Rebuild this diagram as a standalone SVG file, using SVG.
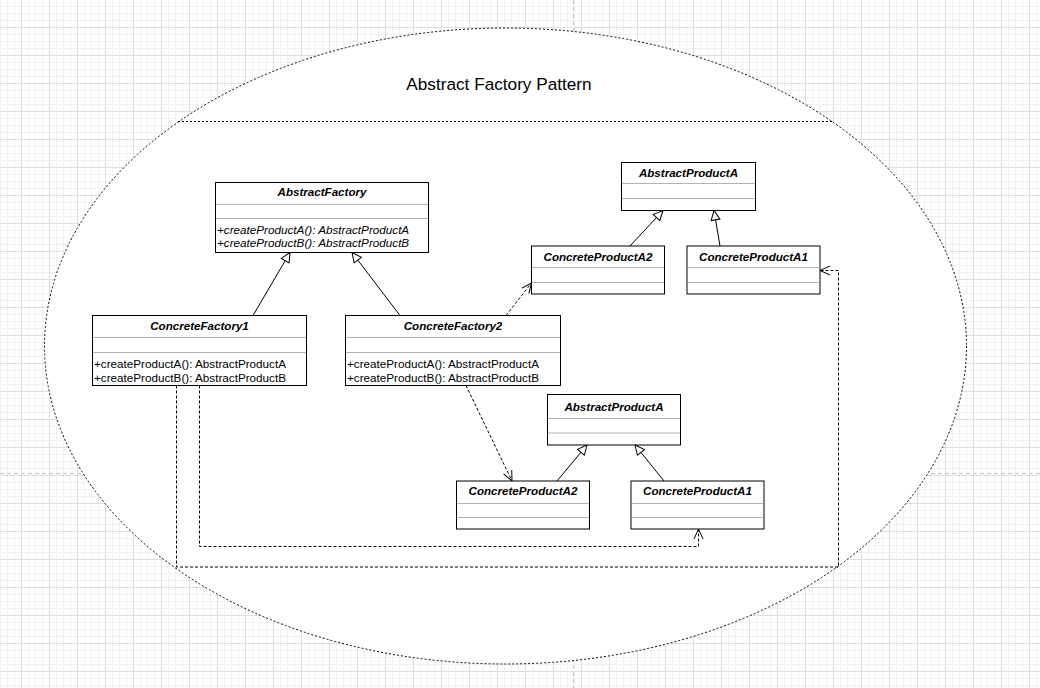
<svg xmlns="http://www.w3.org/2000/svg" width="1040" height="688" viewBox="0 0 1040 688">
<style>
  .box { fill: #ffffff; stroke: #000000; stroke-width: 1; }
  .sep { stroke: #b3b3b3; stroke-width: 1; }
  .t { font-family: "Liberation Sans", Arial, Helvetica, sans-serif; font-size: 11.7px; fill: #000000; }
  .title { font-weight: bold; font-style: italic; text-anchor: middle; font-size: 11.6px; }
  .it { font-style: italic; }
  .gen { fill: none; stroke: #000000; stroke-width: 1; marker-end: url(#tri); }
  .dep { fill: none; stroke: #000000; stroke-width: 1; stroke-dasharray: 3 2; marker-end: url(#open); }
  .pb { stroke: #c4c4c4; stroke-width: 1; stroke-dasharray: 4 3; }
</style>
<defs>
  <pattern id="grid" patternUnits="userSpaceOnUse" x="21" y="27" width="28" height="28">
    <path d="M7.5,0 V28 M14.5,0 V28 M21.5,0 V28 M0,7.5 H28 M0,14.5 H28 M0,21.5 H28" stroke="#f1f1f1" stroke-width="1" fill="none"/>
    <path d="M0.5,0 V28 M0,0.5 H28" stroke="#dedede" stroke-width="1" fill="none"/>
  </pattern>
  <marker id="tri" markerUnits="userSpaceOnUse" viewBox="0 0 10 10" markerWidth="10" markerHeight="10" refX="10" refY="5" orient="auto" overflow="visible">
    <path d="M0.5,0.5 L10,5 L0.5,9.5 Z" fill="#ffffff" stroke="#000000" stroke-width="1"/>
  </marker>
  <marker id="open" markerUnits="userSpaceOnUse" viewBox="0 0 10 10" markerWidth="10" markerHeight="10" refX="10" refY="5" orient="auto" overflow="visible">
    <path d="M0,0.5 L10,5 L0,9.5" fill="none" stroke="#000000" stroke-width="1"/>
  </marker>
</defs>

<!-- background grid -->
<rect x="0" y="0" width="1040" height="688" fill="#ffffff"/>
<rect x="0" y="0" width="1040" height="688" fill="url(#grid)"/>
<line class="pb" x1="573.5" y1="0" x2="573.5" y2="688"/>
<line class="pb" x1="0" y1="473.5" x2="1040" y2="473.5"/>

<!-- container ellipse -->
<g id="container">
  <ellipse cx="505.5" cy="346" rx="461" ry="318" fill="#ffffff" stroke="#000000" stroke-width="1" stroke-dasharray="2 2"/>
  <line x1="178" y1="121.5" x2="833" y2="121.5" stroke="#000000" stroke-width="1" stroke-dasharray="2 2"/>
  <text x="499" y="90" font-family="'Liberation Sans', Arial, Helvetica, sans-serif" font-size="17.2" text-anchor="middle" fill="#000000">Abstract Factory Pattern</text>
</g>

<!-- connectors -->
<g id="connectors">
  <path class="gen" d="M253,315.5 L290,252.5"/>
  <path class="gen" d="M400,315.5 L352,252.5"/>
  <path class="gen" d="M630,246 L663,210.5"/>
  <path class="gen" d="M720,246 L714,210.5"/>
  <path class="gen" d="M557,481 L587,445"/>
  <path class="gen" d="M664,481 L635,445"/>
  <path class="dep" d="M506,315.5 L531.5,283"/>
  <path class="dep" d="M466,385.5 L512,481"/>
  <path class="dep" d="M199.5,385.5 V546.5 H698.5 V529"/>
  <path class="dep" d="M176.5,385.5 V567 H838.5 V270.5 H820"/>
</g>

<g id="AbstractFactory">
  <rect class="box" x="215.5" y="182.5" width="213" height="70"/>
  <line class="sep" x1="216" y1="204.5" x2="428" y2="204.5"/>
  <line class="sep" x1="216" y1="218.5" x2="428" y2="218.5"/>
  <text class="t title" x="322" y="196">AbstractFactory</text>
  <text class="t it" x="217" y="233.8">+createProductA(): AbstractProductA</text>
  <text class="t it" x="217" y="247.2">+createProductB(): AbstractProductB</text>
</g>

<g id="ConcreteFactory1">
  <rect class="box" x="92.5" y="315.5" width="214" height="70"/>
  <line class="sep" x1="93" y1="337.5" x2="306" y2="337.5"/>
  <line class="sep" x1="93" y1="352.5" x2="306" y2="352.5"/>
  <text class="t title" x="199.5" y="330">ConcreteFactory1</text>
  <text class="t" x="94" y="368.3">+createProductA(): AbstractProductA</text>
  <text class="t" x="94" y="381.7">+createProductB(): AbstractProductB</text>
</g>

<g id="ConcreteFactory2">
  <rect class="box" x="345.5" y="315.5" width="215" height="70"/>
  <line class="sep" x1="346" y1="337.5" x2="560" y2="337.5"/>
  <line class="sep" x1="346" y1="352.5" x2="560" y2="352.5"/>
  <text class="t title" x="453" y="330">ConcreteFactory2</text>
  <text class="t" x="347" y="368.3">+createProductA(): AbstractProductA</text>
  <text class="t" x="347" y="381.7">+createProductB(): AbstractProductB</text>
</g>

<g id="AbstractProductA_1">
  <rect class="box" x="621.5" y="162.5" width="134" height="48"/>
  <line class="sep" x1="622" y1="183.5" x2="755" y2="183.5"/>
  <line class="sep" x1="622" y1="198.5" x2="755" y2="198.5"/>
  <text class="t title" x="688.5" y="176.5">AbstractProductA</text>
</g>

<g id="ConcreteProductA2_1">
  <rect class="box" x="531.5" y="246" width="133" height="48"/>
  <line class="sep" x1="532" y1="267.5" x2="664" y2="267.5"/>
  <line class="sep" x1="532" y1="282.5" x2="664" y2="282.5"/>
  <text class="t title" x="598" y="260.5">ConcreteProductA2</text>
</g>

<g id="ConcreteProductA1_1">
  <rect class="box" x="687" y="246" width="133" height="48"/>
  <line class="sep" x1="687.5" y1="267.5" x2="819.5" y2="267.5"/>
  <line class="sep" x1="687.5" y1="282.5" x2="819.5" y2="282.5"/>
  <text class="t title" x="753.5" y="260.5">ConcreteProductA1</text>
</g>

<g id="AbstractProductA_2">
  <rect class="box" x="547.5" y="394.5" width="133" height="50.5"/>
  <line class="sep" x1="548" y1="418.5" x2="680" y2="418.5"/>
  <line class="sep" x1="548" y1="433" x2="680" y2="433"/>
  <text class="t title" x="614" y="410.5">AbstractProductA</text>
</g>

<g id="ConcreteProductA2_2">
  <rect class="box" x="456.5" y="481" width="133" height="48"/>
  <line class="sep" x1="457" y1="503.5" x2="589" y2="503.5"/>
  <line class="sep" x1="457" y1="517.5" x2="589" y2="517.5"/>
  <text class="t title" x="523" y="495">ConcreteProductA2</text>
</g>

<g id="ConcreteProductA1_2">
  <rect class="box" x="631" y="481" width="133" height="48"/>
  <line class="sep" x1="631.5" y1="503.5" x2="763.5" y2="503.5"/>
  <line class="sep" x1="631.5" y1="517.5" x2="763.5" y2="517.5"/>
  <text class="t title" x="697.5" y="495">ConcreteProductA1</text>
</g>
</svg>
